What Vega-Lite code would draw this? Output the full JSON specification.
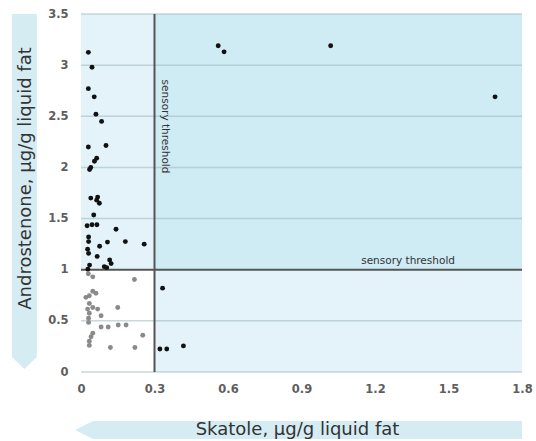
{
  "$schema": "https://vega.github.io/schema/vega-lite/v6.json",
  "width": 441,
  "height": 358,
  "autosize": "none",
  "padding": {"left": 81, "top": 14, "right": 14, "bottom": 69},
  "background": "white",
  "config": {"view": {"stroke": null}},
  "datasets": {
    "points": [
      {"skatole": 0.030, "androstenone": 3.125},
      {"skatole": 0.045, "androstenone": 2.98},
      {"skatole": 0.030, "androstenone": 2.77},
      {"skatole": 0.054, "androstenone": 2.69},
      {"skatole": 0.061, "androstenone": 2.52},
      {"skatole": 0.084, "androstenone": 2.45},
      {"skatole": 0.030, "androstenone": 2.20},
      {"skatole": 0.102, "androstenone": 2.215},
      {"skatole": 0.064, "androstenone": 2.09},
      {"skatole": 0.055, "androstenone": 2.06},
      {"skatole": 0.040, "androstenone": 2.00},
      {"skatole": 0.035, "androstenone": 1.98},
      {"skatole": 0.040, "androstenone": 1.70},
      {"skatole": 0.068, "androstenone": 1.71},
      {"skatole": 0.075, "androstenone": 1.65},
      {"skatole": 0.064, "androstenone": 1.68},
      {"skatole": 0.052, "androstenone": 1.535},
      {"skatole": 0.025, "androstenone": 1.43},
      {"skatole": 0.045, "androstenone": 1.44},
      {"skatole": 0.065, "androstenone": 1.44},
      {"skatole": 0.143, "androstenone": 1.395},
      {"skatole": 0.031, "androstenone": 1.32},
      {"skatole": 0.031, "androstenone": 1.275},
      {"skatole": 0.108, "androstenone": 1.27},
      {"skatole": 0.076, "androstenone": 1.23},
      {"skatole": 0.181, "androstenone": 1.275},
      {"skatole": 0.258, "androstenone": 1.25},
      {"skatole": 0.027, "androstenone": 1.20},
      {"skatole": 0.031, "androstenone": 1.16},
      {"skatole": 0.066, "androstenone": 1.13},
      {"skatole": 0.117, "androstenone": 1.095},
      {"skatole": 0.123, "androstenone": 1.06},
      {"skatole": 0.095, "androstenone": 1.03},
      {"skatole": 0.105, "androstenone": 1.02},
      {"skatole": 0.035, "androstenone": 1.045},
      {"skatole": 0.028, "androstenone": 1.005},
      {"skatole": 0.030, "androstenone": 0.96},
      {"skatole": 0.048, "androstenone": 0.93},
      {"skatole": 0.218, "androstenone": 0.905},
      {"skatole": 0.048, "androstenone": 0.79},
      {"skatole": 0.061, "androstenone": 0.77},
      {"skatole": 0.034, "androstenone": 0.745},
      {"skatole": 0.020, "androstenone": 0.73},
      {"skatole": 0.034, "androstenone": 0.67},
      {"skatole": 0.048, "androstenone": 0.63},
      {"skatole": 0.068, "androstenone": 0.615},
      {"skatole": 0.027, "androstenone": 0.615},
      {"skatole": 0.150, "androstenone": 0.63},
      {"skatole": 0.034, "androstenone": 0.575},
      {"skatole": 0.082, "androstenone": 0.55},
      {"skatole": 0.031, "androstenone": 0.525},
      {"skatole": 0.031, "androstenone": 0.485},
      {"skatole": 0.082, "androstenone": 0.44},
      {"skatole": 0.111, "androstenone": 0.44},
      {"skatole": 0.152, "androstenone": 0.46},
      {"skatole": 0.184, "androstenone": 0.46},
      {"skatole": 0.048, "androstenone": 0.38},
      {"skatole": 0.041, "androstenone": 0.345},
      {"skatole": 0.252, "androstenone": 0.36},
      {"skatole": 0.034, "androstenone": 0.30},
      {"skatole": 0.034, "androstenone": 0.26},
      {"skatole": 0.120, "androstenone": 0.24},
      {"skatole": 0.220, "androstenone": 0.24},
      {"skatole": 0.333, "androstenone": 0.82},
      {"skatole": 0.322, "androstenone": 0.225},
      {"skatole": 0.350, "androstenone": 0.225},
      {"skatole": 0.418, "androstenone": 0.255},
      {"skatole": 0.560, "androstenone": 3.19},
      {"skatole": 0.584, "androstenone": 3.13},
      {"skatole": 1.019, "androstenone": 3.19},
      {"skatole": 1.690, "androstenone": 2.69}
    ]
  },
  "layer": [
    {
      "data": {"values": [
        {"x": -0.0245, "ylo": -0.567, "yhi": -0.567},
        {"x": 0.049, "ylo": -0.655, "yhi": -0.479},
        {"x": 1.8, "ylo": -0.655, "yhi": -0.479}
      ]},
      "mark": {"type": "area", "color": "#d6ecf3", "orient": "vertical", "clip": false},
      "encoding": {
        "x": {"field": "x", "type": "quantitative", "scale": {"domain": [0, 1.8], "nice": false, "zero": false},
          "axis": {"title": "Skatole, µg/g liquid fat", "values": [0, 0.3, 0.6, 0.9, 1.2, 1.5, 1.8], "format": ".1~f",
                   "grid": false, "domain": false, "ticks": false, "labelPadding": 11, "zindex": 1,
                   "labelFont": "DejaVu Sans", "labelFontSize": 11.5, "labelFontWeight": "bold", "labelColor": "#5e5e5e", "labelFlush": false,
                   "titleFont": "DejaVu Sans", "titleFontSize": 18, "titleFontWeight": "normal", "titleColor": "#333333",
                   "titleBaseline": "middle", "titleY": 57, "titleX": 216}},
        "y": {"field": "ylo", "type": "quantitative", "scale": {"domain": [0, 3.5], "nice": false, "zero": false},
          "axis": {"title": "Androstenone, µg/g liquid fat", "values": [0, 0.5, 1, 1.5, 2, 2.5, 3, 3.5], "format": ".1~f",
                   "grid": false, "domain": false, "ticks": false, "labelPadding": 13, "zindex": 1,
                   "labelFont": "DejaVu Sans", "labelFontSize": 11.5, "labelFontWeight": "bold", "labelColor": "#5e5e5e", "labelFlush": false,
                   "titleFont": "DejaVu Sans", "titleFontSize": 18, "titleFontWeight": "normal", "titleColor": "#333333",
                   "titleBaseline": "middle", "titleX": -56, "titleY": 164, "titleAngle": -90}},
        "y2": {"field": "yhi"}
      }
    },
    {
      "data": {"values": [
        {"y": 3.5, "xlo": -0.282, "xhi": -0.180},
        {"y": 0.147, "xlo": -0.282, "xhi": -0.180},
        {"y": 0.029, "xlo": -0.231, "xhi": -0.231}
      ]},
      "mark": {"type": "area", "color": "#d6ecf3", "orient": "horizontal", "clip": false},
      "encoding": {
        "y": {"field": "y", "type": "quantitative"},
        "x": {"field": "xlo", "type": "quantitative"},
        "x2": {"field": "xhi"}
      }
    },
    {
      "data": {"values": [
        {"zone": "low skatole, high androstenone", "x1": 0, "x2": 0.3, "y1": 1, "y2": 3.5},
        {"zone": "high skatole, high androstenone", "x1": 0.3, "x2": 1.8, "y1": 1, "y2": 3.5},
        {"zone": "high skatole, low androstenone", "x1": 0.3, "x2": 1.8, "y1": 0, "y2": 1}
      ]},
      "mark": {"type": "rect"},
      "encoding": {
        "x": {"field": "x1", "type": "quantitative"},
        "x2": {"field": "x2"},
        "y": {"field": "y1", "type": "quantitative"},
        "y2": {"field": "y2"},
        "color": {"field": "zone", "type": "nominal", "legend": null,
          "scale": {"domain": ["low skatole, high androstenone", "high skatole, high androstenone", "high skatole, low androstenone"],
                    "range": ["#e3f3f9", "#cfebf4", "#e3f3f9"]}}
      }
    },
    {
      "data": {"values": [{"g": 0}, {"g": 0.5}, {"g": 1.5}, {"g": 2}, {"g": 2.5}, {"g": 3}, {"g": 3.5}]},
      "mark": {"type": "rule", "color": "#9fb8c0", "opacity": 0.55, "strokeWidth": 1.5},
      "encoding": {
        "y": {"field": "g", "type": "quantitative"}
      }
    },
    {
      "data": {"values": [{}]},
      "mark": {"type": "rule", "color": "#555555", "strokeWidth": 2},
      "encoding": {"x": {"datum": 0.3, "type": "quantitative"}}
    },
    {
      "data": {"values": [{}]},
      "mark": {"type": "rule", "color": "#555555", "strokeWidth": 2},
      "encoding": {"y": {"datum": 1, "type": "quantitative"}}
    },
    {
      "data": {"values": [{}]},
      "mark": {"type": "text", "text": "sensory threshold", "font": "DejaVu Sans", "fontSize": 10.5, "color": "#333333", "align": "center", "baseline": "bottom", "dy": -4},
      "encoding": {
        "x": {"datum": 1.335, "type": "quantitative"},
        "y": {"datum": 1, "type": "quantitative"}
      }
    },
    {
      "data": {"values": [{}]},
      "mark": {"type": "text", "text": "sensory threshold", "font": "DejaVu Sans", "fontSize": 10.5, "color": "#333333", "align": "center", "baseline": "bottom", "angle": 90, "dy": -5},
      "encoding": {
        "x": {"datum": 0.3, "type": "quantitative"},
        "y": {"datum": 2.4, "type": "quantitative"}
      }
    },
    {
      "data": {"name": "points"},
      "mark": {"type": "circle", "size": 24, "opacity": 1},
      "encoding": {
        "x": {"field": "skatole", "type": "quantitative"},
        "y": {"field": "androstenone", "type": "quantitative"},
        "color": {"condition": {"test": "datum.androstenone < 1 && datum.skatole < 0.3", "value": "#8a8a8a"}, "value": "#111111"}
      }
    }
  ]
}
